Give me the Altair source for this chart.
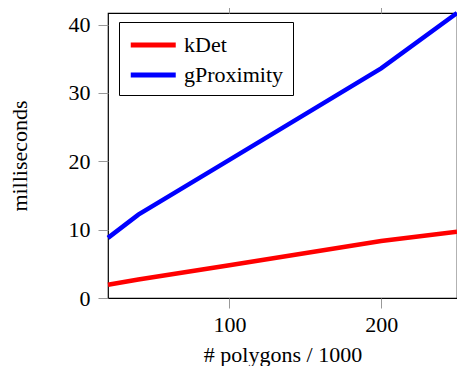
import altair as alt
import pandas as pd

series = ["kDet", "gProximity"]
x_vals = [20, 40, 100, 200, 250]
kdet_ms = [1.95, 2.7, 4.8, 8.35, 9.7]
gprox_ms = [8.8, 12.2, 20.2, 33.6, 41.7]
colors = ["#ff0000", "#0000ff"]

rows = []
for xv, yv in zip(x_vals, kdet_ms):
    rows.append({"n": xv, "ms": yv, "method": "kDet"})
for xv, yv in zip(x_vals, gprox_ms):
    rows.append({"n": xv, "ms": yv, "method": "gProximity"})
df = pd.DataFrame(rows)

FONT = "Liberation Serif"
FS = 22
TICK = "#999999"

xscale = alt.Scale(domain=[20, 250], nice=False, zero=False)
yscale = alt.Scale(domain=[0, 41.7], nice=False)

base = alt.Chart(df)

lines = base.mark_line(strokeWidth=4.5, strokeCap="butt", strokeJoin="miter").encode(
    x=alt.X("n:Q", scale=xscale,
            axis=alt.Axis(orient="bottom", values=[100, 200], title="# polygons / 1000",
                          domain=False, grid=False, tickColor=TICK, tickSize=10,
                          labelFont=FONT, labelFontSize=FS, labelColor="black", labelPadding=6,
                          titleFont=FONT, titleFontSize=FS, titleFontWeight="normal",
                          titleColor="black", titlePadding=9)),
    y=alt.Y("ms:Q", scale=yscale,
            axis=alt.Axis(orient="left", values=[0, 10, 20, 30, 40], title="milliseconds",
                          domain=False, grid=False, tickColor=TICK, tickSize=10,
                          labelFont=FONT, labelFontSize=FS, labelColor="black", labelPadding=8,
                          titleFont=FONT, titleFontSize=FS, titleFontWeight="normal",
                          titleColor="black", titlePadding=37)),
    color=alt.Color("method:N", scale=alt.Scale(domain=series, range=colors),
                    legend=alt.Legend(orient="none", legendX=11, legendY=9, title=None,
                                      symbolType="M-1,0H3", symbolSize=506,
                                      symbolStrokeWidth=5, symbolFillColor="transparent",
                                      labelFont=FONT, labelFontSize=FS,
                                      labelColor="black", labelOffset=28, rowPadding=5,
                                      padding=9, strokeColor="black", fillColor="white",
                                      labelLimit=300)),
    detail="method:N",
)

mirror = base.mark_line(opacity=0).encode(
    x=alt.X("n:Q", scale=xscale,
            axis=alt.Axis(orient="top", values=[100, 200], title=None, labels=False,
                          domain=False, grid=False, tickColor=TICK, tickSize=10)),
    y=alt.Y("ms:Q", scale=yscale,
            axis=alt.Axis(orient="right", values=[0, 10, 20, 30, 40], title=None, labels=False,
                          domain=False, grid=False, tickColor=TICK, tickSize=10)),
    detail="method:N",
)

chart = alt.layer(lines, mirror).properties(
    width=349, height=285,
    autosize=alt.AutoSizeParams(type="none"),
    padding={"left": 100, "top": 5, "right": 0, "bottom": 68},
).configure_view(stroke="black", strokeWidth=1.2)

chart.save("out.html", embed_options={"renderer": "svg", "actions": False})
